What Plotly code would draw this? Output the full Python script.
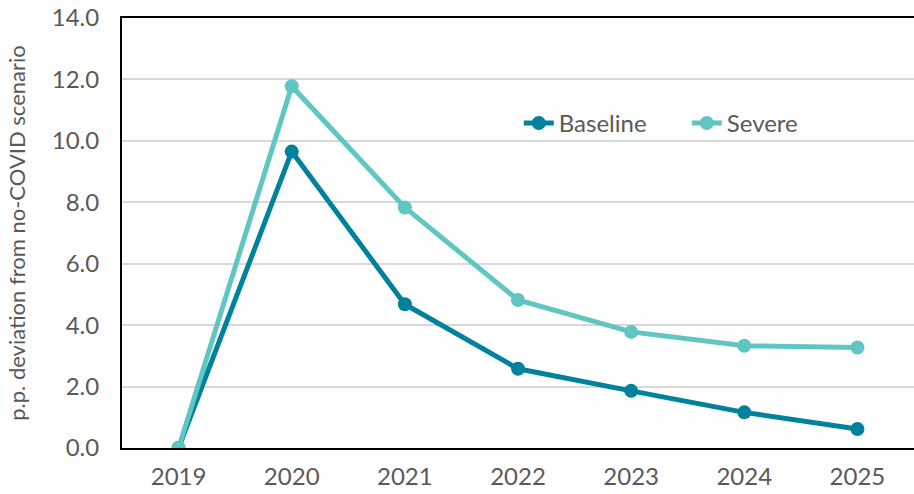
import plotly.graph_objects as go

years = ["2019", "2020", "2021", "2022", "2023", "2024", "2025"]
baseline = [0.0, 9.65, 4.68, 2.58, 1.86, 1.16, 0.62]
severe = [0.0, 11.78, 7.83, 4.82, 3.78, 3.33, 3.27]

c_base = "#00829F"
c_sev = "#5FC6C1"
font_col = "#595959"

fig = go.Figure()
fig.add_trace(go.Scatter(x=years, y=baseline, name="Baseline", mode="lines+markers",
                         line=dict(color=c_base, width=5), marker=dict(size=14, color=c_base)))
fig.add_trace(go.Scatter(x=years, y=severe, name="Severe", mode="lines+markers",
                         line=dict(color=c_sev, width=5), marker=dict(size=14, color=c_sev)))

fig.update_layout(
    width=914, height=494,
    margin=dict(l=122, r=0, t=18, b=46),
    plot_bgcolor="white", paper_bgcolor="white",
    font=dict(family="Lato", size=24, color=font_col),
    legend=dict(orientation="h", x=0.501, y=0.755, xanchor="left", yanchor="middle",
                font=dict(size=24, color=font_col), bgcolor="rgba(0,0,0,0)",
                traceorder="normal", entrywidth=123, entrywidthmode="pixels"),
    xaxis=dict(type="category", range=[-0.5, 6.5], showline=True, linecolor="black",
               linewidth=2, mirror=True, showgrid=False, ticks="", ticklabelstandoff=6,
               tickfont=dict(size=24, color=font_col)),
    yaxis=dict(range=[0, 14], dtick=2, tickformat=".1f", showgrid=True, gridcolor="#D9D9D9",
               gridwidth=2, showline=True, linecolor="black", linewidth=2, zeroline=False,
               ticks="", ticklabelstandoff=16, tickfont=dict(size=24, color=font_col),
               title=dict(text="p.p. deviation from no-COVID scenario", font=dict(size=22, color=font_col),
                          standoff=20)),
)

fig.write_html("out.html")
